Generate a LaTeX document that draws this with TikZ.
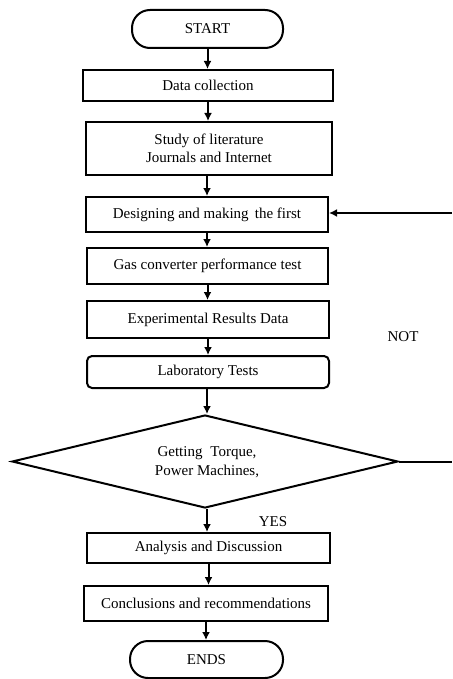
\documentclass[tikz,border=0pt]{standalone}
\usepackage{fontspec}
\setmainfont{Liberation Serif}
\usetikzlibrary{shapes.geometric,arrows.meta}
\begin{document}
\begin{tikzpicture}[x=1pt,y=-1pt,
  every node/.style={font=\fontsize{15}{18.5}\selectfont, inner sep=0pt, align=center},
  box/.style={draw, line width=2pt, rectangle},
  term/.style={draw, line width=2pt, rectangle, rounded corners=18pt},
  arr/.style={line width=2pt, -{Latex[length=8pt,width=8pt]}},
  ln/.style={line width=2pt}]
\useasboundingbox (0,0) rectangle (452,679);
\node[term, minimum width=151pt, minimum height=38pt] (start) at (207.5,29) {START};
\node[box, minimum width=250pt, minimum height=31pt] (data) at (208,85.5) {Data collection};
\node[box, minimum width=246pt, minimum height=53pt] (study) at (209,148.5) {Study of literature\\Journals and Internet};
\node[box, minimum width=242pt, minimum height=35pt] (design) at (207,214.5) {Designing and making\, the first};
\node[box, minimum width=241pt, minimum height=36pt] (gas) at (207.5,266) {Gas converter performance test};
\node[box, minimum width=242pt, minimum height=37pt] (exp) at (208,319.5) {Experimental Results Data};
\node[box, rounded corners=5pt, minimum width=242pt, minimum height=32pt] (lab) at (208,372) {Laboratory Tests};
\node[draw, line width=2pt, diamond, minimum width=386pt, minimum height=93pt] (dec) at (205,461.5) {};
\node (dectext) at (207,462) {Getting\; Torque,\\Power Machines,};
\node[box, minimum width=243pt, minimum height=30pt] (ana) at (208.5,548) {Analysis and Discussion};
\node[box, minimum width=244pt, minimum height=35pt] (conc) at (206,603.5) {Conclusions and recommendations};
\node[term, minimum width=153pt, minimum height=37pt] (ends) at (206.5,659.5) {ENDS};
\node (not) at (403,337) {NOT};
\node (yes) at (273,522) {YES};
\coordinate (fbin) at (452,213);
\coordinate (fbout) at (452,461.5);
\draw[arr] (start.south) -- (start.south |- data.north);
\draw[arr] ([xshift=-1pt]study.north |- data.south) -- ([xshift=-1pt]study.north);
\draw[arr] (design.north |- study.south) -- (design.north);
\draw[arr] (design.south) -- (design.south |- gas.north);
\draw[arr] (gas.south) -- (gas.south |- exp.north);
\draw[arr] (exp.south) -- (exp.south |- lab.north);
\draw[arr] ([xshift=2pt]dec.north |- lab.south) -- ([xshift=2pt]dec.north);
\draw[arr] ([xshift=2pt]dec.south) -- ([xshift=2pt]dec.south |- ana.north);
\draw[arr] (ana.south) -- (ana.south |- conc.north);
\draw[arr] (conc.south) -- (conc.south |- ends.north);
\draw[ln] (dec.east) -- (fbout);
\draw[arr] (fbin) -- (fbin -| design.east);
\end{tikzpicture}
\end{document}
